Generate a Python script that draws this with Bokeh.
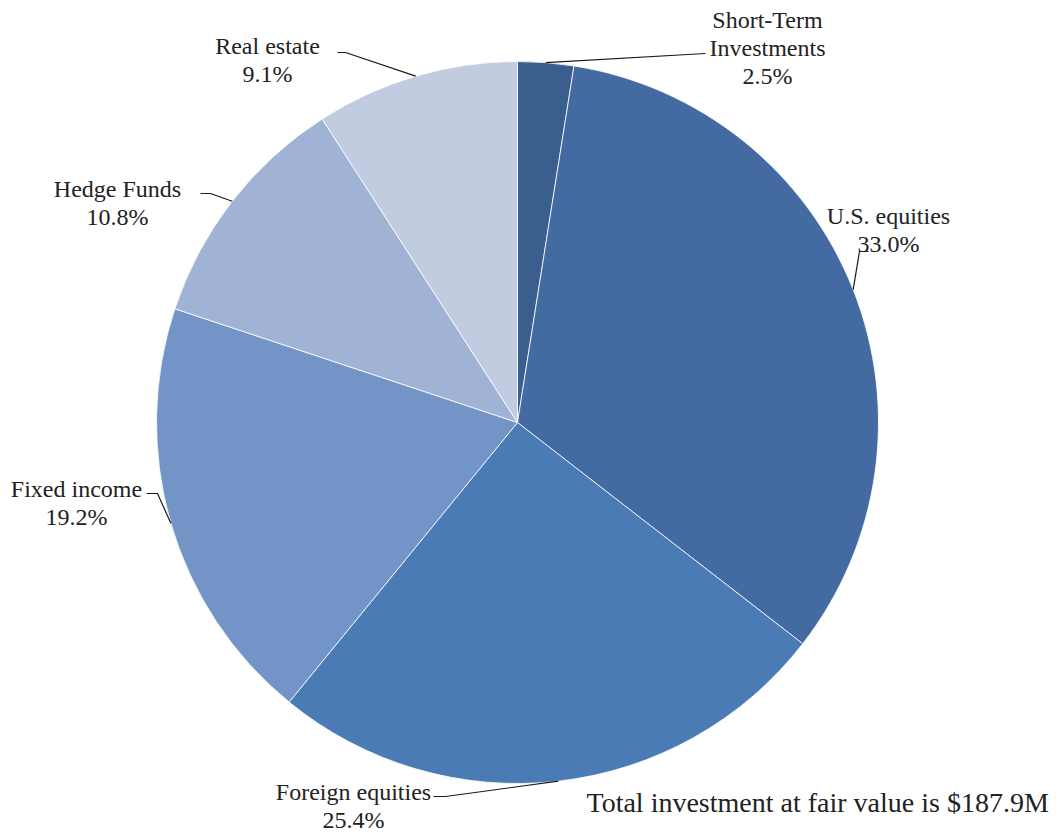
import numpy as np
from bokeh.plotting import figure
from bokeh.models import Range1d
from bokeh.embed import file_html
from bokeh.resources import INLINE
from bokeh.core.properties import value

# ---- data ----
label_lines = [["Short-Term", "Investments"], ["U.S. equities"], ["Foreign equities"],
               ["Fixed income"], ["Hedge Funds"], ["Real estate"]]
shares = [2.5, 33.0, 25.4, 19.2, 10.8, 9.1]
colors = ["#3A5F8E", "#436BA1", "#4A7BB5", "#7394C6", "#A1B3D4", "#C2CCE0"]
total_text = "Total investment at fair value is $187.9M"

# ---- layout (page pixel coordinates) ----
W, H = 1054, 833
def Y(py):
    return H - py

cx, cy, R = 517, 422, 361
# label anchor: (center x, middle y of first line)
label_pos = [(767, 19), (888, 215), (353, 791), (76, 488), (117, 188), (267, 45)]
# elbow points for leader lines
leader_pts = [[(705, 53)], [(859, 251), (868, 251)], [(445, 796), (433, 796)],
              [(157, 493), (146, 493)], [(210, 193), (200, 193)], [(345, 52), (337, 52)]]
line_gap = 28
FONT = value("Liberation Serif")

p = figure(width=W, height=H, x_range=Range1d(0, W), y_range=Range1d(0, H),
           output_backend="svg", toolbar_location=None, min_border=0)
p.axis.visible = False
p.grid.visible = False
p.outline_line_color = None
p.background_fill_color = "white"

cum = np.concatenate([[0], np.cumsum(shares)])
total = cum[-1]
starts = [np.pi / 2 - 2 * np.pi * cum[i + 1] / total for i in range(len(shares))]
ends = [np.pi / 2 - 2 * np.pi * cum[i] / total for i in range(len(shares))]
p.wedge(x=cx, y=Y(cy), radius=R, start_angle=starts, end_angle=ends,
        direction="anticlock", fill_color=colors, line_color="white", line_width=0.8)

xs, ys = [], []
for i in range(len(shares)):
    mid = 2 * np.pi * (cum[i] + shares[i] / 2) / total
    sx = cx + R * np.sin(mid)
    sy = cy - R * np.cos(mid)
    pts = [(sx, sy)] + leader_pts[i]
    xs.append([q[0] for q in pts])
    ys.append([Y(q[1]) for q in pts])
p.multi_line(xs=xs, ys=ys, line_color="#1a1a1a", line_width=1.2)

tx, ty, tt = [], [], []
for i, lines in enumerate(label_lines):
    lx, ly = label_pos[i]
    allines = lines + ["%.1f%%" % shares[i]]
    for k, t in enumerate(allines):
        tx.append(lx)
        ty.append(Y(ly + k * line_gap))
        tt.append(t)
p.text(x=tx, y=ty, text=tt, text_align="center", text_baseline="middle",
       text_font=FONT, text_font_size="24px", text_color="#222222")

p.text(x=[586], y=[Y(802)], text=[total_text], text_align="left", text_baseline="middle",
       text_font=FONT, text_font_size="28px", text_color="#222222")

open("out.html", "w").write(file_html(p, INLINE))
